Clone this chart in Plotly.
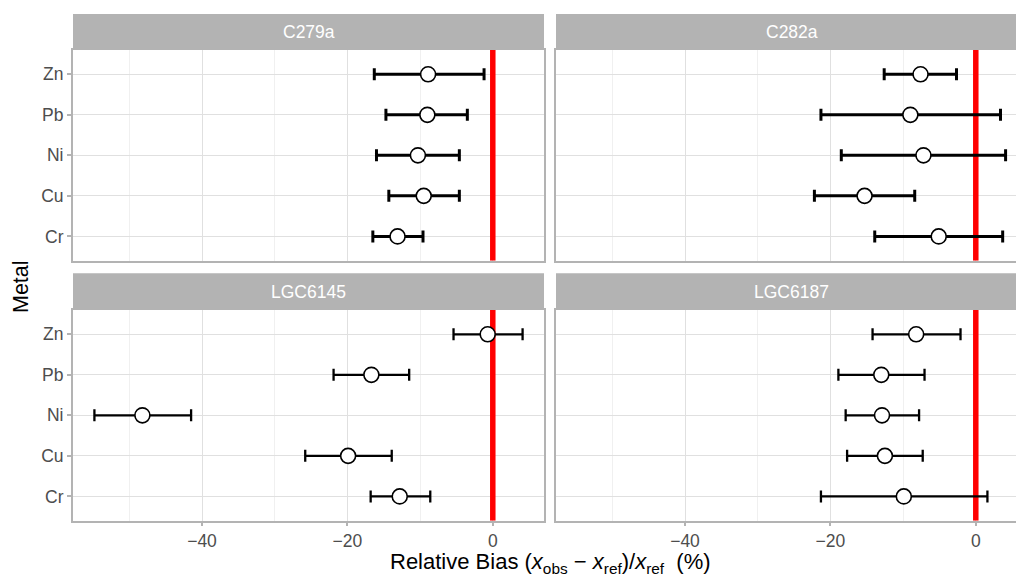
import plotly.graph_objects as go

# ---------------- data ----------------
metals = ["Cr", "Cu", "Ni", "Pb", "Zn"]
panels = ["C279a", "C282a", "LGC6145", "LGC6187"]

c279a_est = [-13.1, -9.5, -10.3, -9.0, -8.9]
c279a_lo = [-16.5, -14.3, -16.0, -14.7, -16.3]
c279a_hi = [-9.6, -4.6, -4.6, -3.5, -1.2]

c282a_est = [-5.1, -15.3, -7.2, -9.0, -7.6]
c282a_lo = [-13.9, -22.2, -18.5, -21.3, -12.6]
c282a_hi = [3.7, -8.4, 4.1, 3.4, -2.65]

lgc6145_est = [-12.8, -19.9, -48.2, -16.7, -0.7]
lgc6145_lo = [-16.8, -25.8, -54.8, -21.9, -5.4]
lgc6145_hi = [-8.6, -13.9, -41.5, -11.5, 4.1]

lgc6187_est = [-9.9, -12.5, -12.9, -13.0, -8.2]
lgc6187_lo = [-21.3, -17.7, -17.9, -18.9, -14.2]
lgc6187_hi = [1.6, -7.3, -7.8, -7.05, -2.1]

x_ticks = [-40, -20, 0]
x_ticklabels = ["\u221240", "\u221220", "0"]
ref_line_x = 0

# ---------------- layout geometry (pixels) ----------------
W, H = 1016, 579
def px(x):
    return x / W
def py(y):
    return 1 - y / H

col_px = [(73, 544), (556, 1016)]
full_panel_w = 471
row_px = [(50, 260.7), (310, 520.7)]
strip_px = [(14, 50), (273.3, 310)]

series = [
    (c279a_est, c279a_lo, c279a_hi),
    (c282a_est, c282a_lo, c282a_hi),
    (lgc6145_est, lgc6145_lo, lgc6145_hi),
    (lgc6187_est, lgc6187_lo, lgc6187_hi),
]

all_lo = min(min(s[1]) for s in series)
all_hi = max(max(s[2]) for s in series)
span = all_hi - all_lo
xmin = all_lo - 0.05 * span
xmax = all_hi + 0.05 * span
units_per_px = (xmax - xmin) / full_panel_w

ypos = list(range(len(metals)))
ymin, ymax = -0.6, len(metals) - 1 + 0.6

fig = go.Figure()

GRID = "#E0E0E0"
MINOR = "#F0F0F0"
BORDER = "#B3B3B3"
TICKTXT = "#4D4D4D"
FONT = "Liberation Sans, Arial, sans-serif"

layout = dict(
    width=W, height=H,
    margin=dict(l=0, r=0, t=0, b=0),
    paper_bgcolor="white", plot_bgcolor="white",
    showlegend=False,
    font=dict(family=FONT, size=17.5, color=TICKTXT),
)

shapes = []
annotations = []

for i, name in enumerate(panels):
    r, c = divmod(i, 2)
    est, lo, hi = series[i]
    idx = i + 1
    xa = "x" if idx == 1 else f"x{idx}"
    ya = "y" if idx == 1 else f"y{idx}"
    xkey = "xaxis" if idx == 1 else f"xaxis{idx}"
    ykey = "yaxis" if idx == 1 else f"yaxis{idx}"

    x0p, x1p = col_px[c]
    y0p, y1p = row_px[r]
    right_edge = xmin + (x1p - x0p) * units_per_px

    # red reference line (drawn first, under the error bars)
    fig.add_trace(go.Scatter(
        x=[ref_line_x, ref_line_x], y=[ymin, ymax], xaxis=xa, yaxis=ya,
        mode="lines", line=dict(color="#FF0000", width=5.5), hoverinfo="skip",
    ))

    thick = 3 if r == 0 else 2.3
    fig.add_trace(go.Scatter(
        x=est, y=ypos, xaxis=xa, yaxis=ya, mode="markers",
        marker=dict(size=15, color="white", line=dict(color="black", width=1.6)),
        error_x=dict(type="data", symmetric=False,
                     array=[h - e for h, e in zip(hi, est)],
                     arrayminus=[e - l for e, l in zip(est, lo)],
                     color="black", thickness=thick, width=6),
        hoverinfo="skip",
    ))

    bottom = r == 1
    left = c == 0
    layout[xkey] = dict(
        domain=[px(x0p), px(x1p)], anchor=ya, range=[xmin, right_edge],
        tickmode="array", tickvals=x_ticks, ticktext=x_ticklabels,
        showticklabels=bottom, ticks="outside" if bottom else "",
        ticklen=3, tickwidth=1.5, tickcolor=BORDER,
        tickfont=dict(size=17.5, color=TICKTXT, family=FONT),
        showgrid=True, gridcolor=GRID, gridwidth=1.1,
        minor=dict(tickmode="array", tickvals=[-50, -30, -10, 10],
                   showgrid=True, gridcolor=MINOR, gridwidth=0.8, ticks=""),
        zeroline=False,
        showline=True, linecolor=BORDER, linewidth=2, mirror=True,
        fixedrange=True,
    )
    layout[ykey] = dict(
        domain=[py(y1p), py(y0p)], anchor=xa,
        range=[ymin, ymax],
        tickmode="array", tickvals=ypos, ticktext=metals,
        showticklabels=left, ticks="outside" if left else "",
        ticklen=4, tickwidth=1.5, tickcolor=BORDER,
        tickfont=dict(size=17.5, color=TICKTXT, family=FONT),
        showgrid=True, gridcolor=GRID, gridwidth=1.1,
        zeroline=False,
        showline=True, linecolor=BORDER, linewidth=2, mirror=left,
        fixedrange=True,
    )

    # strip
    s0, s1 = strip_px[r]
    shapes.append(dict(type="rect", xref="paper", yref="paper",
                       x0=px(x0p), x1=px(x0p + full_panel_w) if c == 0 else 1.0,
                       y0=py(s1), y1=py(s0),
                       fillcolor=BORDER, line=dict(width=0), layer="above"))
    annotations.append(dict(text=name, xref="paper", yref="paper",
                            x=px(x0p + full_panel_w / 2), y=py((s0 + s1) / 2),
                            xanchor="center", yanchor="middle", showarrow=False,
                            font=dict(size=17.5, color="white", family=FONT)))

annotations.append(dict(text="Metal", xref="paper", yref="paper",
                        x=px(21), y=py(287), textangle=-90,
                        xanchor="center", yanchor="middle", showarrow=False,
                        font=dict(size=21.5, color="black", family=FONT)))
annotations.append(dict(
    text="Relative Bias (<i>x</i><sub>obs</sub> \u2212 <i>x</i><sub>ref</sub>)/<i>x</i><sub>ref</sub>  (%)",
    xref="paper", yref="paper", x=px(550), y=py(579),
    xanchor="center", yanchor="bottom", showarrow=False,
    font=dict(size=22, color="black", family=FONT)))

layout["shapes"] = shapes
layout["annotations"] = annotations
fig.update_layout(**layout)

fig.write_html(
    "out.html",
    config={"displayModeBar": False},
    post_script="document.body.style.margin='0';document.body.style.padding='0';document.body.style.overflow='hidden';",
)
